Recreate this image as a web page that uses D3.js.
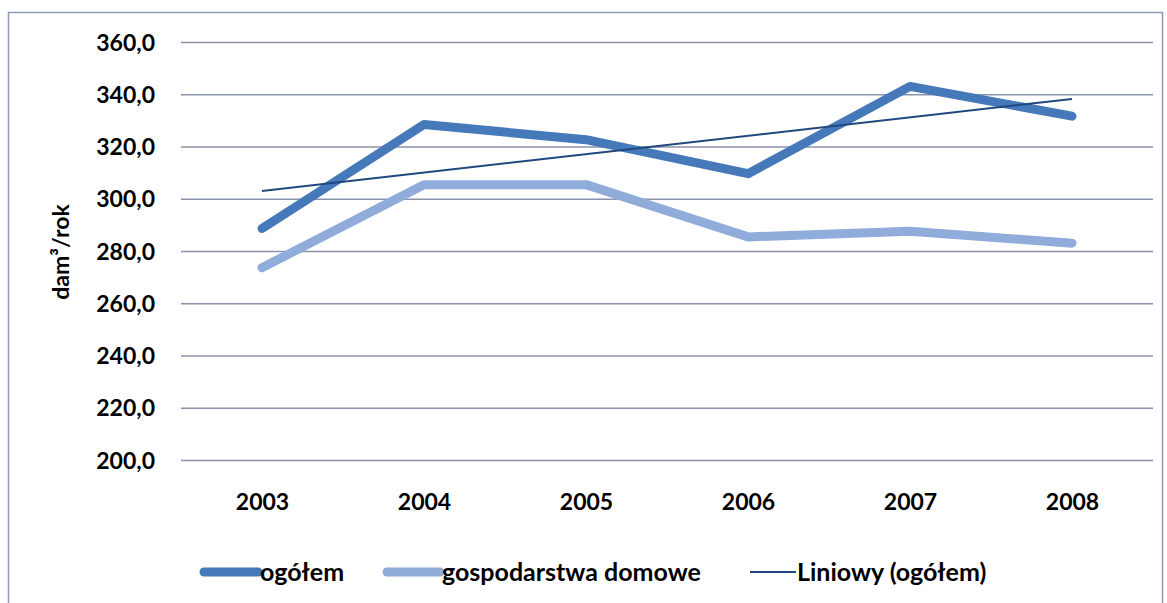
<!DOCTYPE html>
<html>
<head>
<meta charset="utf-8">
<script src="https://cdn.jsdelivr.net/npm/d3@7"></script>
<style>
    body { margin: 0; background: #fff; }
    text { font-family: Lato, "Open Sans", sans-serif; font-weight: bold; fill: #000; }
</style>
</head>
<body>
<div id="chart"></div>
<script>
// data
let years = ["2003", "2004", "2005", "2006", "2007", "2008"];
let ogolem = [288.6, 328.4, 322.6, 309.6, 343.0, 331.6];
let gospodarstwa = [273.6, 305.4, 305.4, 285.4, 287.6, 283.0];
// trend line (Liniowy) end values, at 2003 and 2008
let trendValues = [303.0, 338.2];
let yTicks = [200, 220, 240, 260, 280, 300, 320, 340, 360];
let legendLabels = ["ogółem", "gospodarstwa domowe", "Liniowy (ogółem)"];

let width = 1167, height = 603;

let svg = d3.select("#chart").append("svg")
    .attr("width", width)
    .attr("height", height);

// chart frame
svg.append("rect")
    .attr("x", 8.5).attr("y", 12.5)
    .attr("width", 1154).attr("height", 600)
    .attr("fill", "none")
    .attr("stroke", "#8e9ab3")
    .attr("stroke-width", 1.5);

let plot = {left: 181, right: 1153, top: 42, bottom: 460};

let x = d3.scalePoint()
    .domain(years)
    .range([plot.left, plot.right])
    .padding(0.5);

let y = d3.scaleLinear()
    .domain([200, 360])
    .range([plot.bottom, plot.top]);

// y axis + gridlines
let yAxis = svg.append("g")
    .attr("transform", `translate(${plot.left},0)`)
    .call(d3.axisLeft(y)
        .tickValues(yTicks)
        .tickSizeInner(-(plot.right - plot.left))
        .tickSizeOuter(0)
        .tickPadding(26)
        .tickFormat(d => d3.format(".1f")(d).replace(".", ",")));

yAxis.select(".domain").remove();
yAxis.selectAll("line")
    .attr("stroke", "#8b93ab")
    .attr("stroke-width", 1.6);
yAxis.selectAll("text")
    .attr("font-size", 23)
    .attr("dy", "0.35em");

// x axis labels
let xAxis = svg.append("g")
    .attr("transform", `translate(0,${plot.bottom})`)
    .call(d3.axisBottom(x).tickSize(0).tickPadding(34));
xAxis.select(".domain").remove();
xAxis.selectAll("text").attr("font-size", 23);

// y axis title
svg.append("text")
    .attr("transform", "translate(69,252) rotate(-90)")
    .attr("text-anchor", "middle")
    .attr("font-size", 23)
    .text("dam³/rok");

let line = d3.line()
    .x((d, i) => x(years[i]))
    .y(d => y(d));

svg.append("path")
    .datum(gospodarstwa)
    .attr("d", line)
    .attr("fill", "none")
    .attr("stroke", "#8facdb")
    .attr("stroke-width", 9)
    .attr("stroke-linecap", "round")
    .attr("stroke-linejoin", "round");

svg.append("path")
    .datum(ogolem)
    .attr("d", line)
    .attr("fill", "none")
    .attr("stroke", "#4679b9")
    .attr("stroke-width", 9)
    .attr("stroke-linecap", "round")
    .attr("stroke-linejoin", "round");

svg.append("line")
    .attr("x1", x(years[0])).attr("y1", y(trendValues[0]))
    .attr("x2", x(years[years.length - 1])).attr("y2", y(trendValues[1]))
    .attr("stroke", "#1f497d")
    .attr("stroke-width", 2);

// legend
let legendItems = [
    {label: legendLabels[0], x: 204, len: 54, color: "#4679b9", w: 9},
    {label: legendLabels[1], x: 387, len: 53, color: "#8facdb", w: 9},
    {label: legendLabels[2], x: 750, len: 46, color: "#1f497d", w: 2}
];

let legend = svg.append("g").attr("transform", "translate(0,572)");

let items = legend.selectAll("g")
    .data(legendItems)
    .enter()
    .append("g")
    .attr("transform", d => `translate(${d.x},0)`);

items.append("line")
    .attr("x1", 0).attr("x2", d => d.len)
    .attr("stroke", d => d.color)
    .attr("stroke-width", d => d.w)
    .attr("stroke-linecap", d => d.w > 3 ? "round" : "butt");

items.append("text")
    .attr("x", d => d.len + (d.w > 3 ? 2 : 1))
    .attr("dy", "0.35em")
    .attr("font-size", 25)
    .text(d => d.label);
</script>
</body>
</html>
